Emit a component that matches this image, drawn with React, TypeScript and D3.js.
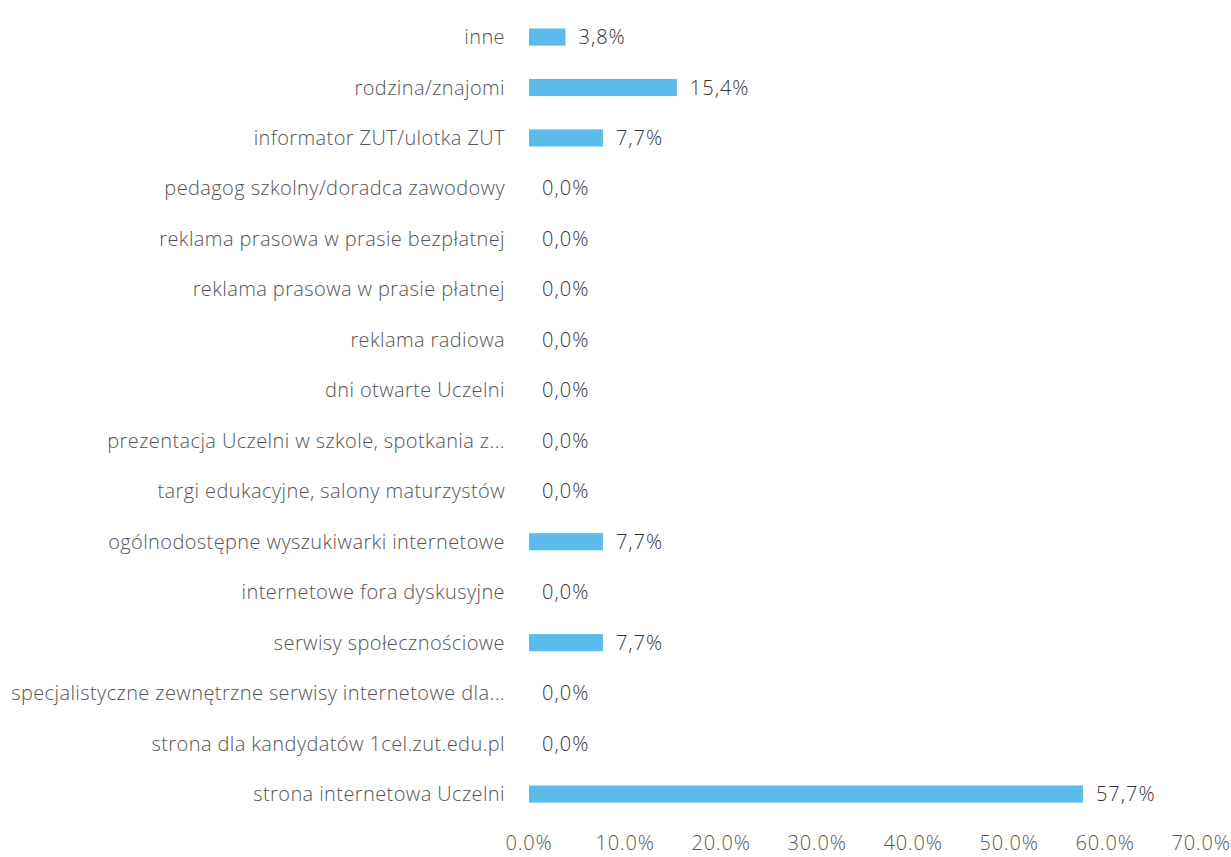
import React from "react";
import * as d3 from "d3";

const categories: string[] = [
  "inne",
  "rodzina/znajomi",
  "informator ZUT/ulotka ZUT",
  "pedagog szkolny/doradca zawodowy",
  "reklama prasowa w prasie bezpłatnej",
  "reklama prasowa w prasie płatnej",
  "reklama radiowa",
  "dni otwarte Uczelni",
  "prezentacja Uczelni w szkole, spotkania z...",
  "targi edukacyjne, salony maturzystów",
  "ogólnodostępne wyszukiwarki internetowe",
  "internetowe fora dyskusyjne",
  "serwisy społecznościowe",
  "specjalistyczne zewnętrzne serwisy internetowe dla...",
  "strona dla kandydatów 1cel.zut.edu.pl",
  "strona internetowa Uczelni",
];

const values: number[] = [3.8, 15.4, 7.7, 0, 0, 0, 0, 0, 0, 0, 7.7, 0, 7.7, 0, 0, 57.7];

const ticks: number[] = [0, 10, 20, 30, 40, 50, 60, 70];

const W = 1231;
const H = 857;
const FONT = "'Open Sans', sans-serif";

export default function App() {
  const x = d3.scaleLinear().domain([0, 70]).range([529, 1201]);
  const y = d3
    .scaleBand<string>()
    .domain(categories)
    .range([11.8, 819.3])
    .paddingInner(0.66)
    .paddingOuter(0.33);

  const fmtVal = (v: number) => v.toFixed(1).replace(".", ",") + "%";
  const fmtTick = (v: number) => v.toFixed(1) + "%";

  return (
    <svg
      width={W}
      height={H}
      style={{ position: "absolute", left: 0, top: 0, background: "#fff" }}
      fontFamily={FONT}
    >
      <rect x={0} y={0} width={W} height={H} fill="#fff" />
      {categories.map((c, i) => {
        const yc = (y(c) as number) + y.bandwidth() / 2;
        const v = values[i];
        return (
          <g key={c}>
            <text
              x={505}
              y={yc}
              dy="0.35em"
              textAnchor="end"
              fontSize={20}
              letterSpacing={0.4}
              fontWeight={300}
              fill="#555"
            >
              {c}
            </text>
            {v > 0 && (
              <rect
                x={x(0)}
                y={y(c) as number}
                width={x(v) - x(0)}
                height={y.bandwidth()}
                fill="#5bbcec"
              />
            )}
            <text
              x={x(v) + 13}
              y={yc}
              dy="0.35em"
              fontSize={20}
              letterSpacing={1}
              fontWeight={300}
              fill="#333"
            >
              {fmtVal(v)}
            </text>
          </g>
        );
      })}
      {ticks.map((t) => (
        <text
          key={t}
          x={x(t)}
          y={850}
          textAnchor="middle"
          fontSize={20}
          letterSpacing={0.8}
          fontWeight={300}
          fill="#555"
        >
          {fmtTick(t)}
        </text>
      ))}
    </svg>
  );
}
